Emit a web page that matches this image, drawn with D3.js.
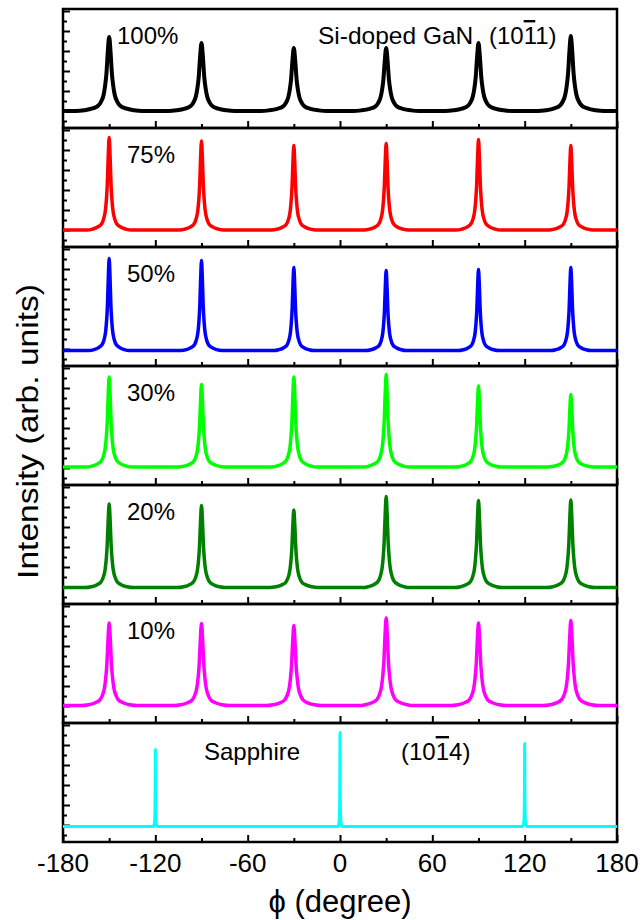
<!DOCTYPE html>
<html>
<head>
<meta charset="utf-8">
<script src="https://cdn.jsdelivr.net/npm/d3@7"></script>
<style>
  body { margin: 0; background: #fff; }
  text { font-family: "Liberation Sans", Arial, sans-serif; fill: #000; }
  .tick line { stroke: #000; stroke-width: 2; }
  .domain { display: none; }
</style>
</head>
<body>
<div id="chart"></div>
<script>
// phi axis
const phiTicks = [-180, -120, -60, 0, 60, 120, 180];
const phiMinor = [-150, -90, -30, 30, 90, 150];

// peak positions
const ganPeakPos = [-150, -90, -30, 30, 90, 150];
const sapphirePeakPos = [-120, 0, 120];

// panels, top to bottom
const panelLabels = ['100%', '75%', '50%', '30%', '20%', '10%', 'Sapphire'];
const panelColors = ['#000000', '#ff0000', '#0000ff', '#00ff00', '#008000', '#ff00ff', '#00ffff'];
const peakHeights = [
  [3.70, 3.40, 3.15, 3.15, 3.40, 3.75],
  [4.62, 4.45, 4.22, 4.33, 4.52, 4.22],
  [4.52, 4.42, 4.08, 3.92, 3.97, 4.08],
  [4.55, 4.18, 4.55, 4.67, 4.10, 3.67],
  [4.15, 4.07, 3.85, 4.52, 4.32, 4.35],
  [4.15, 4.12, 4.02, 4.40, 4.15, 4.27],
  [3.78, 4.62, 4.08]
];
const baselines = [0, 0, -0.08, 0.05, -0.03, 0.02, -0.08];
const peakHwhm = [1.8, 1.2, 1.1, 1.25, 1.3, 1.5, 0.12];
const traceWidth = [4, 3.5, 3.5, 3.5, 3.5, 3.5, 3];

// peak profile (offset in hwhm, fraction of peak)
const profileOffset = [0, 0.5, 1, 1.5, 2, 3, 4, 6, 9, 12];
const profileLevel = [1, 0.8, 0.5, 0.33, 0.22, 0.12, 0.07, 0.035, 0.01, 0];

// y ticks (same in every panel)
const yMajor = [0, 1, 2, 3, 4, 5];
const yMinor = [-0.5, 0.5, 1.5, 2.5, 3.5, 4.5];

const width = 643, height = 920;
const plotLeft = 63, plotRight = 617, plotTop = 9, panelH = 119;

const svg = d3.select('#chart').append('svg')
  .attr('width', width)
  .attr('height', height);

const x = d3.scaleLinear().domain([-180, 180]).range([plotLeft, plotRight]);

const tracePoints = (p) => {
  const pos = p === 6 ? sapphirePeakPos : ganPeakPos;
  const base = baselines[p];
  const w = peakHwhm[p];
  const pts = [[-180, base]];
  pos.forEach((c, i) => {
    const amp = peakHeights[p][i] - base;
    for (let k = profileOffset.length - 1; k > 0; k--) {
      pts.push([c - profileOffset[k] * w, base + amp * profileLevel[k]]);
    }
    pts.push([c, base + amp]);
    for (let k = 1; k < profileOffset.length; k++) {
      pts.push([c + profileOffset[k] * w, base + amp * profileLevel[k]]);
    }
  });
  pts.push([180, base]);
  return pts;
};

for (let p = 0; p < panelLabels.length; p++) {
  const y0 = plotTop + p * panelH;
  const y = d3.scaleLinear().domain([-0.85, 5.1]).range([y0 + panelH, y0]);
  const g = svg.append('g');

  g.append('g')
    .attr('transform', `translate(0,${y0 + panelH})`)
    .call(d3.axisBottom(x).tickValues(phiTicks).tickSize(-7).tickFormat(''));
  g.append('g')
    .attr('transform', `translate(0,${y0 + panelH})`)
    .call(d3.axisBottom(x).tickValues(phiMinor).tickSize(-4).tickFormat(''));
  g.append('g')
    .attr('transform', `translate(${plotLeft},0)`)
    .call(d3.axisLeft(y).tickValues(yMajor).tickSize(-7).tickFormat(''));
  g.append('g')
    .attr('transform', `translate(${plotLeft},0)`)
    .call(d3.axisLeft(y).tickValues(yMinor).tickSize(-4).tickFormat(''));

  g.append('rect')
    .attr('x', plotLeft)
    .attr('y', y0)
    .attr('width', plotRight - plotLeft)
    .attr('height', panelH)
    .attr('fill', 'none')
    .attr('stroke', '#000')
    .attr('stroke-width', 2.5);

  const line = d3.line()
    .x(d => x(d[0]))
    .y(d => y(d[1]))
    .curve(d3.curveMonotoneX);

  g.append('path')
    .datum(tracePoints(p))
    .attr('d', line)
    .attr('fill', 'none')
    .attr('stroke', panelColors[p])
    .attr('stroke-width', traceWidth[p])
    .attr('stroke-linejoin', 'round');

  if (p < 6) {
    g.append('text')
      .attr('x', p === 0 ? 117 : 127)
      .attr('y', y0 + 35)
      .attr('font-size', 24)
      .text(panelLabels[p]);
  }
}

// labels inside panels
const millerText = (xPos, yPos, a, bar, b) => {
  const t = svg.append('text')
    .attr('x', xPos)
    .attr('y', yPos)
    .attr('font-size', 24);
  t.append('tspan').text(a);
  t.append('tspan').style('text-decoration', 'overline').text(bar);
  t.append('tspan').text(b);
};

svg.append('text')
  .attr('x', 318)
  .attr('y', 44)
  .attr('font-size', 24.5)
  .text('Si-doped GaN');
millerText(489, 44, '(10', '1', '1)');

svg.append('text')
  .attr('x', 204)
  .attr('y', 760)
  .attr('font-size', 24)
  .text(panelLabels[6]);
millerText(401, 760, '(10', '1', '4)');

// bottom tick labels
const plotBottom = plotTop + 7 * panelH;
svg.append('g')
  .selectAll('text')
  .data(phiTicks)
  .enter()
  .append('text')
  .attr('x', d => x(d))
  .attr('y', plotBottom + 30)
  .attr('text-anchor', 'middle')
  .attr('font-size', 26)
  .text(d => d);

svg.append('text')
  .attr('x', x(0))
  .attr('y', 912)
  .attr('text-anchor', 'middle')
  .attr('font-size', 31)
  .text('ϕ (degree)');

svg.append('text')
  .attr('transform', `translate(38,${plotTop + 3.55 * panelH}) rotate(-90)`)
  .attr('text-anchor', 'middle')
  .attr('font-size', 30)
  .attr('textLength', 295)
  .attr('lengthAdjust', 'spacingAndGlyphs')
  .text('Intensity (arb. units)');
</script>
</body>
</html>
